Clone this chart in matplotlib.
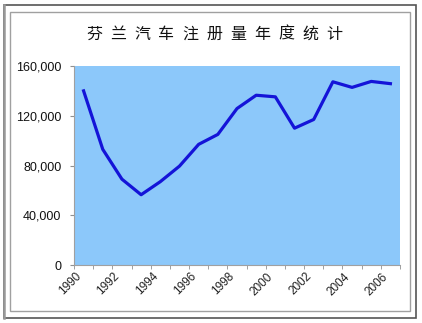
import matplotlib
matplotlib.use("Agg")
import matplotlib.pyplot as plt
from matplotlib.patches import Rectangle
import numpy as np

title = "芬兰汽车注册量年度统计"
years = [1990, 1991, 1992, 1993, 1994, 1995, 1996, 1997, 1998, 1999,
         2000, 2001, 2002, 2003, 2004, 2005, 2006]
registrations = [140000, 93000, 69000, 56500, 67000, 79500, 97000, 105000,
                 125800, 136500, 135200, 110000, 117000, 147300, 142800,
                 147600, 145800]
yticks = [0, 40000, 80000, 120000, 160000]

W, H = 422, 323
fig = plt.figure(figsize=(W / 100, H / 100), dpi=100)
fig.patch.set_facecolor("white")

def px(x0, y0, x1, y1):
    return (x0 / W, 1 - y1 / H, (x1 - x0) / W, (y1 - y0) / H)

# outer and inner frames
l, b, w, h = px(3.5, 5, 416, 318)
fig.patches.append(Rectangle((l, b), w, h, transform=fig.transFigure,
                             fill=False, edgecolor="#555555", linewidth=1.2))
fig.add_artist(plt.Line2D([3.5 / W, 3.5 / W], [1 - 318 / H, 1 - 5 / H],
                          transform=fig.transFigure, color="#999999", linewidth=1.8))
l, b, w, h = px(9.5, 12, 410, 310.5)
fig.patches.append(Rectangle((l, b), w, h, transform=fig.transFigure,
                             fill=False, edgecolor="#a0a0a0", linewidth=1.0))

ax = fig.add_axes(px(74, 66, 400, 265))
ax.set_facecolor("#8cc8fa")
x = np.arange(len(years))
ax.plot(x, registrations, color="#1414d8", linewidth=2.3, solid_joinstyle="round")

ax.set_xlim(-0.5, len(years) - 0.5)
ax.set_ylim(0, 160000)
ax.set_yticks(yticks)
ax.set_yticklabels([f"{v:,}" for v in yticks], fontsize=9,
                   family="Liberation Sans", color="#111111")
ax.set_xticks(x[::2])
ax.set_xticklabels([str(y) for y in years[::2]], rotation=45, ha="right",
                   va="top", fontsize=8.5, family="Liberation Sans", color="#222222")
ax.set_xticks(np.arange(-0.5, len(years), 1), minor=True)
ax.tick_params(axis="x", which="major", length=0, pad=4)
ax.tick_params(axis="x", which="minor", length=3, color="#909090", direction="out")
ax.tick_params(axis="y", length=3, color="#909090", pad=6)
for s in ["top", "right"]:
    ax.spines[s].set_visible(False)
for s in ["left", "bottom"]:
    ax.spines[s].set_color("#a0a0a0")
    ax.spines[s].set_linewidth(0.8)

# spaced title
n = len(title)
x0, x1 = 94, 334
for i, ch in enumerate(title):
    xc = x0 + (x1 - x0) * i / (n - 1)
    fig.text(xc / W, 1 - 34 / H, ch, ha="center", va="center", fontsize=11.5,
             family=["Noto Sans CJK SC", "DejaVu Sans"], color="#111111")

fig.savefig("out.png", dpi=100)
